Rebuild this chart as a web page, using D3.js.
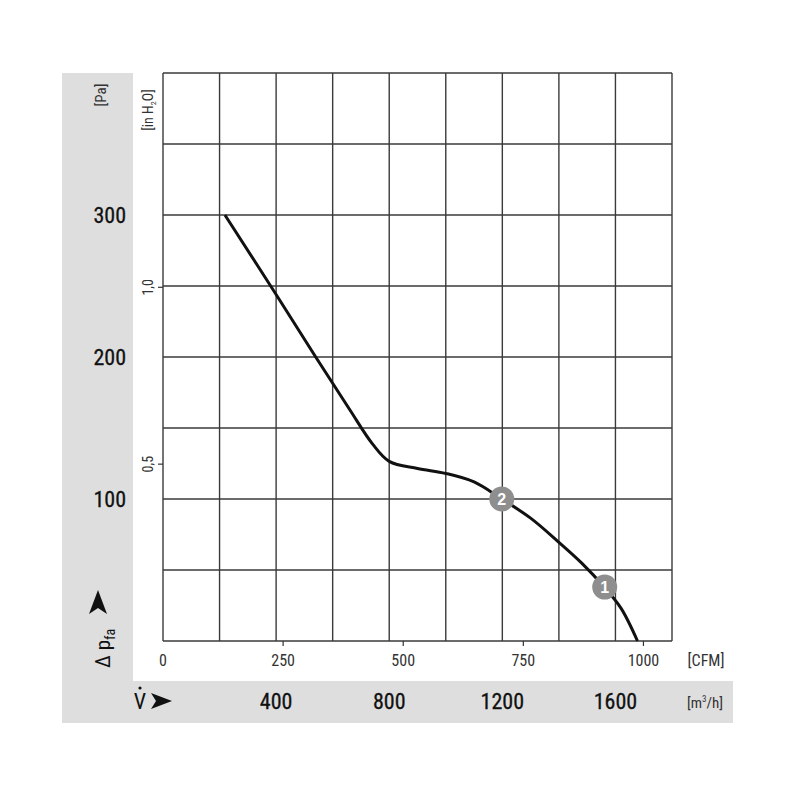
<!DOCTYPE html>
<html><head><meta charset="utf-8">
<script src="https://cdn.jsdelivr.net/npm/d3@7"></script>
<style>body{margin:0;background:#fff}svg{display:block}</style>
</head><body>
<svg id="c" width="800" height="800"></svg>
<script>
// ---- data ----
const flowM3h = [219, 400, 540, 660, 740, 800, 900, 1000, 1100, 1198, 1300, 1400, 1480, 1560, 1620, 1678];
const pressurePa = [300, 244, 200, 163, 139, 126.5, 121.5, 118, 112, 100, 86.5, 69.5, 55, 38, 23, 0];
const markerLabels = ["2", "1"];
const markerFlow = [1198, 1562];
const markerPa = [100, 38];
const paTicks = [100, 200, 300];
const inH2OTicks = [0.5, 1.0];
const inH2OLabels = ["0,5", "1,0"];
const cfmTicks = [0, 250, 500, 750, 1000];
const m3hTicks = [400, 800, 1200, 1600];

// ---- layout ----
const L = 163, R = 672, T = 73, B = 641;
const svg = d3.select("#c");
const x = d3.scaleLinear().domain([0, 1800]).range([L, R]);
const y = d3.scaleLinear().domain([0, 400]).range([B, T]);
const PA_PER_INH2O = 249.089;
const M3H_PER_CFM = 1.699011;
const fontN = "'Liberation Sans Narrow','Roboto Condensed','Arial Narrow',Arial,sans-serif";

// grey panels
svg.append("rect").attr("x", 62).attr("y", 73).attr("width", 71).attr("height", 650).attr("fill", "#dedede");
svg.append("rect").attr("x", 62).attr("y", 681).attr("width", 671).attr("height", 42).attr("fill", "#dedede");

// grid
const gx = d3.range(0, 1801, 200), gy = d3.range(0, 401, 50);
svg.append("g").selectAll("line").data(gx).join("line")
  .attr("x1", d => x(d)).attr("x2", d => x(d)).attr("y1", T).attr("y2", B)
  .attr("stroke", "#3a3a3a").attr("stroke-width", 1.4);
svg.append("g").selectAll("line").data(gy).join("line")
  .attr("x1", L).attr("x2", R).attr("y1", d => y(d)).attr("y2", d => y(d))
  .attr("stroke", "#3a3a3a").attr("stroke-width", 1.4);

// Pa labels
svg.append("g").selectAll("text").data(paTicks).join("text")
  .attr("x", 126).attr("y", d => y(d) + 8).attr("text-anchor", "end")
  .attr("font-family", fontN).attr("font-size", 22).attr("fill", "#111").attr("stroke", "#111").attr("stroke-width", 0.3).text(d => d);
svg.append("text").attr("transform", "translate(106,95) rotate(-90)")
  .attr("text-anchor", "middle").attr("font-family", fontN).attr("font-size", 15).attr("fill", "#333").text("[Pa]");

// inH2O ticks + labels
const yin = d => y(d * PA_PER_INH2O);
svg.append("g").selectAll("line").data(inH2OTicks).join("line")
  .attr("x1", L - 5).attr("x2", L).attr("y1", yin).attr("y2", yin).attr("stroke", "#333").attr("stroke-width", 1.2);
svg.append("g").selectAll("text").data(inH2OTicks).join("text")
  .attr("transform", d => `translate(153,${yin(d)}) rotate(-90)`)
  .attr("text-anchor", "middle").attr("font-family", fontN).attr("font-size", 14).attr("fill", "#333")
  .text((d, i) => inH2OLabels[i]);
const tIn = svg.append("text").attr("transform", "translate(153,110) rotate(-90)")
  .attr("text-anchor", "middle").attr("font-family", fontN).attr("font-size", 14).attr("fill", "#333");
tIn.append("tspan").text("[in H");
tIn.append("tspan").attr("font-size", 8).attr("dy", 3).text("2");
tIn.append("tspan").attr("dy", -3).text("O]");

// CFM ticks + labels
const xc = d => x(d * M3H_PER_CFM);
svg.append("g").selectAll("line").data(cfmTicks.slice(1)).join("line")
  .attr("x1", xc).attr("x2", xc).attr("y1", B).attr("y2", B + 5).attr("stroke", "#333").attr("stroke-width", 1.2);
svg.append("g").selectAll("text").data(cfmTicks).join("text")
  .attr("x", xc).attr("y", 666).attr("text-anchor", "middle")
  .attr("font-family", fontN).attr("font-size", 16).attr("fill", "#333").text(d => d);
svg.append("text").attr("x", 706).attr("y", 666).attr("text-anchor", "middle")
  .attr("font-family", fontN).attr("font-size", 16).attr("fill", "#333").text("[CFM]");

// m3/h labels
svg.append("g").selectAll("text").data(m3hTicks).join("text")
  .attr("x", d => x(d)).attr("y", 709).attr("text-anchor", "middle")
  .attr("font-family", fontN).attr("font-size", 22).attr("fill", "#111").attr("stroke", "#111").attr("stroke-width", 0.3).text(d => d);
const tm = svg.append("text").attr("x", 705).attr("y", 708).attr("text-anchor", "middle")
  .attr("font-family", fontN).attr("font-size", 15).attr("fill", "#333");
tm.append("tspan").text("[m");
tm.append("tspan").attr("font-size", 9).attr("dy", -6).text("3");
tm.append("tspan").attr("dy", 6).text("/h]");

// V-dot arrow
svg.append("text").attr("x", 140).attr("y", 709).attr("text-anchor", "middle")
  .attr("font-family", fontN).attr("font-size", 22).attr("fill", "#111").text("V");
svg.append("circle").attr("cx", 140).attr("cy", 688).attr("r", 1.6).attr("fill", "#111");
svg.append("path").attr("d", "M151,693 L172,701 L151,709 L156,701 Z").attr("fill", "#111");

// Δ p_fa arrow
const tp = svg.append("text").attr("transform", "translate(110,668) rotate(-90)")
  .attr("text-anchor", "start").attr("font-family", fontN).attr("font-size", 21).attr("fill", "#111");
tp.append("tspan").text("Δ p");
tp.append("tspan").attr("font-size", 14).attr("dy", 5).text("fa");
svg.append("path").attr("d", "M89,614 L98,590 L107,614 L98,608 Z").attr("fill", "#111");

// curve
const pts = flowM3h.map((f, i) => [f, pressurePa[i]]);
svg.append("path").datum(pts)
  .attr("d", d3.line().x(d => x(d[0])).y(d => y(d[1])).curve(d3.curveCatmullRom.alpha(0.5)))
  .attr("fill", "none").attr("stroke", "#111").attr("stroke-width", 3);

// markers
const mk = svg.append("g").selectAll("g").data(markerFlow).join("g")
  .attr("transform", (d, i) => `translate(${x(d)},${y(markerPa[i])})`);
mk.append("circle").attr("r", 12.5).attr("fill", "#8e8e8e");
mk.append("text").attr("y", 6).attr("text-anchor", "middle").attr("font-family", "Arial, sans-serif")
  .attr("font-weight", "bold").attr("font-size", 16).attr("fill", "#fff").text((d, i) => markerLabels[i]);
</script>
</body></html>
